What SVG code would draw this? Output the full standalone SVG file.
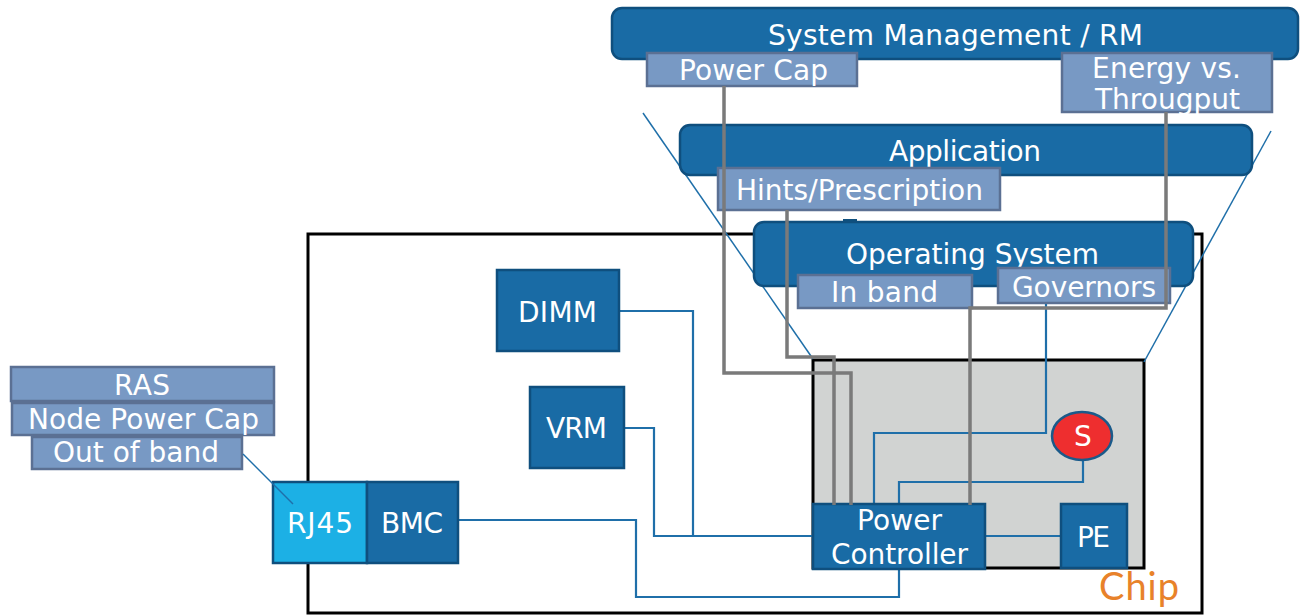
<svg xmlns="http://www.w3.org/2000/svg" width="1300" height="616" viewBox="0 0 1300 616">
<style>
.dark{fill:#196ba5;stroke:#0f4f7e;stroke-width:2.5}
.lab{fill:#7899c4;stroke:#5b7093;stroke-width:2.5}
.t{font-family:"DejaVu Sans","Liberation Sans",sans-serif;font-size:28px;fill:#ffffff}
.blue{fill:none;stroke:#1f6fa9;stroke-width:2.2}
.gray{fill:none;stroke:#7a7a7a;stroke-width:3.5}
.persp{fill:none;stroke:#1f6fa9;stroke-width:1.5}
</style>
<rect width="1300" height="616" fill="#ffffff"/>
<g id="board">
<rect x="308" y="234" width="894" height="379" fill="none" stroke="#000000" stroke-width="3"/>
</g>
<g id="chip">
<rect x="813" y="360" width="331" height="208" fill="#d1d3d2" stroke="#000000" stroke-width="3"/>
<text x="1099" y="600" textLength="80" style="font-family:Lato,'Open Sans',sans-serif;font-size:38px;fill:#e8822a">Chip</text>
</g>
<g id="perspective">
<path class="persp" d="M643,113 L813,359"/>
<path class="persp" d="M1271,131 L1144,362"/>
</g>
<g id="sysmgmt">
<rect class="dark" x="612" y="8" width="686" height="51" rx="10"/>
<text class="t" x="768" y="45" textLength="375">System Management / RM</text>
<rect class="lab" x="647" y="53" width="210" height="33"/>
<text class="t" x="679" y="80" textLength="149">Power Cap</text>
<rect class="lab" x="1062" y="53" width="210" height="59"/>
<text class="t" x="1092" y="78" textLength="149">Energy vs.</text>
<text class="t" x="1095" y="109" textLength="145">Througput</text>
</g>
<g id="application">
<rect class="dark" x="680" y="125" width="572" height="50" rx="10"/>
<text class="t" x="889" y="161" textLength="152">Application</text>
<rect class="lab" x="718" y="168" width="282" height="42"/>
<text class="t" x="736" y="200" textLength="247">Hints/Prescription</text>
</g>
<g id="os">
<rect x="843" y="219" width="14" height="5" fill="#0f4f7e"/>
<rect class="dark" x="754" y="222" width="439" height="64" rx="10"/>
<text class="t" x="846" y="264" textLength="253">Operating System</text>
<rect class="lab" x="798" y="275" width="174" height="33"/>
<text class="t" x="831" y="302" textLength="107">In band</text>
<rect class="lab" x="998" y="268" width="172" height="35"/>
<text class="t" x="1012" y="297" textLength="144">Governors</text>
</g>
<g id="connectors">
<path class="blue" d="M619,311 H693 V536 H813"/>
<path class="blue" d="M624,428 H654 V536 H693"/>
<path class="blue" d="M458,520 H636 V597 H899 V569"/>
<path class="blue" d="M1046,304 V433 H874 V504"/>
<path class="blue" d="M1083,460 V482 H899 V504"/>
<path class="blue" d="M985,536 H1061"/>
</g>
<g id="dimm">
<rect class="dark" x="497" y="270" width="122" height="81"/>
<text class="t" x="518" y="322" textLength="79">DIMM</text>
</g>
<g id="vrm">
<rect class="dark" x="530" y="387" width="94" height="81"/>
<text class="t" x="546" y="438" textLength="61">VRM</text>
</g>
<g id="rj45">
<rect x="273" y="482" width="94" height="81" fill="#1cb0e5" stroke="#0f4f7e" stroke-width="2.5"/>
<text class="t" x="287" y="533" textLength="66">RJ45</text>
</g>
<g id="bmc">
<rect class="dark" x="367" y="482" width="91" height="81"/>
<text class="t" x="381" y="533" textLength="62">BMC</text>
</g>
<g id="powercontroller">
<rect class="dark" x="813" y="504" width="172" height="65"/>
<text class="t" x="857" y="530" textLength="85">Power</text>
<text class="t" x="831" y="564" textLength="137">Controller</text>
</g>
<g id="pe">
<rect class="dark" x="1061" y="504" width="66" height="64"/>
<text class="t" x="1077" y="547" textLength="33">PE</text>
</g>
<g id="sensor">
<ellipse cx="1082" cy="436" rx="30" ry="24" fill="#ee2e2f" stroke="#1a5a8a" stroke-width="2.5"/>
<text class="t" x="1074" y="446" textLength="18">S</text>
</g>
<g id="gray-connectors">
<path class="gray" d="M724,86 V373 H851 V505"/>
<path class="gray" d="M787,210 V357 H834 V505"/>
<path class="gray" d="M1166,112 V308 H970 V505"/>
</g>
<g id="oob">
<rect class="lab" x="11" y="367" width="263" height="34"/>
<text class="t" x="114" y="395" textLength="56">RAS</text>
<rect class="lab" x="12" y="403" width="262" height="32"/>
<text class="t" x="28" y="429" textLength="231">Node Power Cap</text>
<rect class="lab" x="32" y="437" width="210" height="32"/>
<text class="t" x="53" y="462" textLength="166">Out of band</text>
</g>
<g id="oob-connector">
<path class="persp" d="M243,454 L293,504"/>
</g>
</svg>
